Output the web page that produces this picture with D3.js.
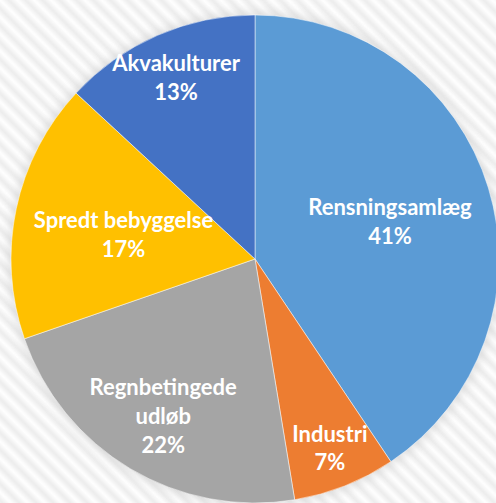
<!DOCTYPE html>
<html>
<head>
<meta charset="utf-8">
<script src="https://cdn.jsdelivr.net/npm/d3@7"></script>
<style>
  body { margin: 0; background: #fff; }
  text { font-family: Lato, "Open Sans", sans-serif; font-weight: bold; }
</style>
</head>
<body>
<script>
// data
const categories = ["Rensningsamlæg", "Industri", "Regnbetingede udløb", "Spredt bebyggelse", "Akvakulturer"];
const labelLines = [["Rensningsamlæg"], ["Industri"], ["Regnbetingede", "udløb"], ["Spredt bebyggelse"], ["Akvakulturer"]];
const values = [40.6, 6.8, 22.3, 17.2, 13.1];
const pctLabels = ["41%", "7%", "22%", "17%", "13%"];
const colors = ["#5B9BD5", "#ED7D31", "#A5A5A5", "#FFC000", "#4472C4"];

// layout
const w = 496, h = 503;
const cx = 255, cy = 259, r = 244;
// excel "best fit" label spots: radius fraction, angle nudge in degrees
const labelFrac = [0.566, 0.864, 0.774, 0.543, 0.78];
const labelShift = [4.6, 0.8, -1.7, -4.7, -0.9];
const lineH = 28.8;

const svg = d3.select("body").append("svg")
  .attr("width", w).attr("height", h);

const defs = svg.append("defs");

// diagonal stripe background
const pat = defs.append("pattern")
  .attr("id", "stripes")
  .attr("patternUnits", "userSpaceOnUse")
  .attr("width", 12).attr("height", 12)
  .attr("patternTransform", "rotate(45)");
const sg = defs.append("linearGradient").attr("id", "sg")
  .attr("x1", 0).attr("x2", 0).attr("y1", 0).attr("y2", 1);
sg.append("stop").attr("offset", "0%").attr("stop-color", "#fff");
sg.append("stop").attr("offset", "50%").attr("stop-color", "#ececec");
sg.append("stop").attr("offset", "100%").attr("stop-color", "#fff");
pat.append("rect").attr("width", 12).attr("height", 12).attr("fill", "url(#sg)");

svg.append("rect").attr("width", w).attr("height", h).attr("fill", "url(#stripes)");

// soft shadow round the pie
const blur = defs.append("filter").attr("id", "glow")
  .attr("x", "-20%").attr("y", "-20%").attr("width", "140%").attr("height", "140%");
blur.append("feGaussianBlur").attr("stdDeviation", 6);

const g = svg.append("g").attr("transform", `translate(${cx},${cy})`);

g.append("circle").attr("r", r + 2)
  .attr("fill", "#c4c4c4").attr("opacity", 0.55)
  .attr("filter", "url(#glow)");

const pie = d3.pie().sort(null).value(d => d);
const arcs = pie(values);
const arc = d3.arc().innerRadius(0).outerRadius(r);

g.selectAll("path.slice")
  .data(arcs)
  .enter()
  .append("path")
  .attr("class", "slice")
  .attr("d", arc)
  .attr("fill", (d, i) => colors[i])
  .attr("stroke", "#fff")
  .attr("stroke-width", 0.5);

// labels
const lbl = g.selectAll("text.lbl")
  .data(arcs)
  .enter()
  .append("text")
  .attr("class", "lbl")
  .attr("fill", "#fff")
  .attr("font-size", 22)
  .attr("text-anchor", "middle")
  .attr("transform", (d, i) => {
    const a = (d.startAngle + d.endAngle) / 2 + labelShift[i] * Math.PI / 180;
    const rr = r * labelFrac[i];
    return `translate(${Math.sin(a) * rr},${-Math.cos(a) * rr})`;
  });

lbl.each(function(d, i) {
  const lines = labelLines[i].concat([pctLabels[i]]);
  const t = d3.select(this);
  const y0 = -((lines.length - 1) * lineH) / 2;
  lines.forEach((s, k) => {
    t.append("tspan").attr("x", 0).attr("y", y0 + k * lineH).text(s);
  });
});
</script>
</body>
</html>
